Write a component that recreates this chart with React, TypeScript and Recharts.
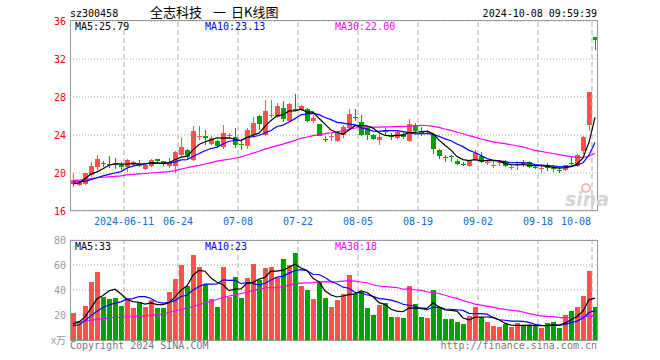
import { ComposedChart, Bar, Line, XAxis, YAxis, CartesianGrid, ReferenceLine } from 'recharts'

const RED = '#ff5050'
const GREEN = '#00a000'
const MONO = '"DejaVu Sans Mono", monospace'
const CJK = '"Noto Sans CJK SC", sans-serif'

// trading days, 2024-05-28 .. 2024-10-08
const days = [
  '05-28', '05-29', '05-30', '05-31', '06-03', '06-04', '06-05', '06-06', '06-07', '06-11',
  '06-12', '06-13', '06-14', '06-17', '06-18', '06-19', '06-20', '06-21', '06-24', '06-25',
  '06-26', '06-27', '06-28', '07-01', '07-02', '07-03', '07-04', '07-05', '07-08', '07-09',
  '07-10', '07-11', '07-12', '07-15', '07-16', '07-17', '07-18', '07-19', '07-22', '07-23',
  '07-24', '07-25', '07-26', '07-29', '07-30', '07-31', '08-01', '08-02', '08-05', '08-06',
  '08-07', '08-08', '08-09', '08-12', '08-13', '08-14', '08-15', '08-16', '08-19', '08-20',
  '08-21', '08-22', '08-23', '08-26', '08-27', '08-28', '08-29', '08-30', '09-02', '09-03',
  '09-04', '09-05', '09-06', '09-09', '09-10', '09-11', '09-12', '09-13', '09-18', '09-19',
  '09-20', '09-23', '09-24', '09-25', '09-26', '09-27', '09-30', '10-08',
]

const open = [
  18.84, 18.7, 18.85, 19.82, 20.65, 21.05, 21.0, 21.0, 21.0, 20.6,
  20.9, 21.0, 20.45, 20.77, 21.5, 21.3, 20.75, 20.72, 21.9, 22.45,
  21.4, 23.9, 23.85, 23.1, 23.4, 22.7, 24.0, 23.8, 23.1, 22.8,
  24.05, 26.04, 24.04, 26.1, 25.9, 26.84, 25.44, 26.7, 26.67, 26.77,
  25.5, 25.16, 23.6, 23.8, 23.4, 24.04, 24.74, 25.85, 25.37, 24.74,
  23.96, 23.44, 24.42, 23.86, 23.65, 24.11, 23.4, 25.02, 24.3, 24.28,
  24.04, 22.46, 21.7, 21.8, 21.3, 20.98, 20.7, 21.4, 21.82, 21.05,
  20.85, 21.08, 21.12, 20.6, 20.95, 21.08, 21.12, 20.65, 20.5, 20.65,
  20.55, 20.3, 20.35, 21.08, 20.7, 22.28, 25.09, 34.27,
]
const close = [
  19.26, 19.05, 20.0, 20.77, 21.5, 20.9, 20.9, 20.85, 20.6, 21.4,
  21.2, 20.74, 20.8, 21.37, 21.25, 20.95, 21.15, 22.25, 22.75, 21.67,
  24.38, 23.93, 23.72, 23.7, 22.8, 24.2, 24.05, 23.0, 23.0, 24.56,
  25.26, 25.16, 26.56, 26.14, 27.02, 25.68, 27.26, 26.6, 27.02, 25.44,
  25.8, 23.93, 23.55, 23.86, 24.21, 24.81, 26.25, 25.79, 23.96, 24.04,
  23.61, 23.79, 24.36, 23.75, 24.28, 23.75, 25.16, 24.39, 24.25, 24.39,
  22.53, 21.75, 21.65, 21.75, 20.95, 20.95, 21.23, 22.11, 21.12, 21.12,
  20.88, 21.12, 20.7, 20.63, 20.98, 21.05, 20.63, 20.63, 20.53, 20.63,
  20.53, 20.28, 20.88, 21.05, 21.93, 23.75, 28.56, 34.0,
]
const high = [
  20.0, 19.2, 20.05, 21.2, 21.9, 21.3, 21.75, 21.6, 21.2, 21.5,
  21.3, 21.4, 20.9, 21.5, 21.5, 21.3, 21.55, 22.3, 23.7, 22.55,
  24.9, 24.9, 24.5, 23.85, 23.5, 25.1, 24.2, 24.7, 23.5, 24.74,
  25.86, 26.14, 27.72, 27.72, 27.37, 27.54, 27.37, 28.35, 27.19, 26.8,
  26.1, 25.16, 23.9, 24.2, 24.39, 25.09, 26.77, 26.77, 26.14, 24.81,
  24.11, 24.21, 24.81, 24.21, 24.39, 24.28, 25.68, 25.3, 24.81, 24.5,
  24.11, 22.53, 21.93, 21.93, 21.51, 21.16, 21.4, 22.46, 22.18, 21.33,
  21.23, 21.4, 21.4, 20.98, 21.23, 21.33, 21.3, 20.88, 20.88, 21.05,
  20.88, 20.63, 20.88, 21.65, 22.0, 23.93, 28.56, 34.27,
]
const low = [
  18.56, 18.6, 18.7, 19.6, 20.35, 20.6, 20.5, 20.4, 20.3, 20.1,
  20.7, 20.6, 20.3, 20.6, 21.0, 20.7, 20.55, 20.0, 21.7, 21.5,
  21.25, 23.5, 23.0, 22.9, 22.6, 22.5, 23.7, 22.6, 22.45, 22.56,
  23.9, 24.56, 23.86, 25.8, 25.8, 25.4, 25.26, 26.5, 26.49, 25.37,
  25.3, 23.86, 23.3, 23.4, 23.3, 23.68, 24.56, 25.44, 23.86, 23.44,
  23.47, 22.91, 23.96, 23.51, 23.58, 23.61, 23.26, 24.32, 23.86, 24.1,
  22.04, 21.51, 21.12, 21.16, 20.81, 20.7, 20.63, 21.23, 21.05, 20.88,
  20.53, 20.77, 20.63, 20.35, 20.35, 20.63, 20.53, 20.42, 20.0, 20.18,
  20.07, 20.0, 20.18, 20.88, 20.63, 22.04, 24.39, 32.9,
]
// volume, 万手
const volume = [
  21.7, 14.2, 27.6, 46.6, 54.6, 34.8, 33.0, 34.0, 27.6, 33.0,
  26.0, 30.5, 26.8, 32.1, 26.0, 26.0, 38.6, 48.5, 60.3, 43.4,
  68.3, 58.1, 45.0, 33.0, 26.8, 58.1, 34.8, 50.6, 34.0, 49.8,
  61.1, 48.2, 57.9, 58.7, 49.8, 64.6, 60.3, 69.9, 43.4, 40.2,
  33.0, 46.1, 34.0, 26.8, 32.1, 37.0, 51.7, 37.0, 38.3, 26.0,
  20.1, 28.1, 29.7, 18.8, 18.8, 17.7, 43.4, 28.9, 18.8, 17.7,
  40.2, 26.8, 16.9, 16.9, 14.5, 12.9, 19.6, 26.8, 18.2, 14.5,
  11.3, 10.4, 12.9, 10.4, 13.7, 11.3, 11.3, 11.3, 9.6, 13.7,
  14.5, 9.6, 20.1, 23.3, 26.8, 35.4, 55.4, 26.8,
]

const ma5Head = [18.84, 18.95, 19.4, 19.9]
const ma10Head = [19.05, 19.08, 19.12, 19.3, 19.5, 19.7, 19.85, 20.0, 20.15]
const ma30Head = [
  19.2, 19.25, 19.3, 19.4, 19.5, 19.55, 19.6, 19.65, 19.7, 19.8,
  19.85, 19.9, 19.95, 20.0, 20.05, 20.1, 20.15, 20.25, 20.4, 20.55,
  20.7, 20.8, 20.95, 21.1, 21.25, 21.35, 21.45, 21.55, 21.7,
]
const volMa5Head = [12.9, 14.5, 18.5, 25.5]
const volMa10Head = [11.5, 12.0, 15.5, 19.5, 23.0, 26.0, 28.0, 29.5, 30.5]
const volMa30Head = [
  14.2, 14.7, 15.2, 15.8, 16.5, 17.2, 17.8, 18.0, 18.2, 18.4,
  18.6, 18.8, 19.2, 19.8, 20.4, 21.0, 22.0, 23.2, 24.4, 25.6,
  26.8, 28.2, 29.6, 31.0, 32.4, 34.0, 35.2, 36.2, 37.2,
]

const tickDays = ['06-11', '06-24', '07-08', '07-22', '08-05', '08-19', '09-02', '09-18', '10-08']
const tickLabels = ['2024-06-11', '06-24', '07-08', '07-22', '08-05', '08-19', '09-02', '09-18', '10-08']
const priceTicks = [16, 20, 24, 28, 32, 36]
const volTicks = [0, 20, 40, 60, 80]

function movingAvg(src: number[], n: number, head: number[]) {
  return src.map((_, i) => {
    if (i < n - 1) return head[i]
    let s = 0
    for (let k = i - n + 1; k <= i; k++) s += src[k]
    return s / n
  })
}

const ma5 = movingAvg(close, 5, ma5Head)
const ma10 = movingAvg(close, 10, ma10Head)
const ma30 = movingAvg(close, 30, ma30Head)
const vma5 = movingAvg(volume, 5, volMa5Head)
const vma10 = movingAvg(volume, 10, volMa10Head)
const vma30 = movingAvg(volume, 30, volMa30Head)

const rows = days.map((day, i) => ({
  day,
  o: open[i],
  c: close[i],
  h: high[i],
  l: low[i],
  range: [low[i], high[i]],
  vol: volume[i],
  ma5: ma5[i],
  ma10: ma10[i],
  ma30: ma30[i],
  vma5: vma5[i],
  vma10: vma10[i],
  vma30: vma30[i],
}))

const Candle = (props: any) => {
  const { x, y, height, payload } = props
  if (!payload) return null
  const { o, c, h, l } = payload
  const top = Math.min(y, y + height)
  const span = Math.abs(height)
  const k = h > l ? span / (h - l) : 0
  const py = (p: number) => top + (h - p) * k
  const col = c >= o ? RED : GREEN
  const bx = Math.floor(x)
  const wTop = Math.round(top)
  const wBot = Math.round(top + span)
  const bTop = Math.round(py(Math.max(o, c)))
  const bBot = Math.round(py(Math.min(o, c)))
  return (
    <g>
      <rect x={bx + 2} y={wTop} width={1} height={Math.max(1, wBot - wTop)} fill={col} />
      <rect x={bx} y={bTop} width={5} height={Math.max(1, bBot - bTop)} fill={col} />
    </g>
  )
}

const VolBar = (props: any) => {
  const { x, y, height, payload } = props
  if (!payload) return null
  const t = Math.round(y)
  const b = Math.round(y + height)
  return <rect x={Math.floor(x)} y={t} width={5} height={Math.max(0, b - t)} fill={payload.c >= payload.o ? RED : GREEN} />
}

const DateTick = (p: any) => {
  const idx = tickDays.indexOf(p.payload.value)
  const last = idx === tickDays.length - 1
  return (
    <text x={last ? p.x - 4 : p.x - 3} y={225} textAnchor={last ? 'end' : 'middle'} fill="#0a6fd6" fontSize={10} fontFamily={MONO}>
      {tickLabels[idx]}
    </text>
  )
}

const VolTick = (p: any) => {
  const v = p.payload.value
  return (
    <text x={p.x} y={p.y} dy={3.5} textAnchor="end" fill="#999" fontSize={10} fontFamily={v === 0 ? CJK : MONO}>
      {v === 0 ? 'x万' : v}
    </text>
  )
}

const vLines = () =>
  tickDays.map((d) => (
    <ReferenceLine key={d} x={d} position="start" stroke="#aaa" strokeDasharray="5 3" ifOverflow="extendDomain" />
  ))

export default function App() {
  return (
    <div style={{ position: 'absolute', left: 0, top: 0, width: 660, height: 360, background: '#fff', overflow: 'hidden' }}>
      <div style={{ position: 'absolute', left: 0, top: 0 }}>
        <ComposedChart width={660} height={232} data={rows} margin={{ top: 21, right: 62, bottom: 1, left: 0 }}>
          <CartesianGrid vertical={false} stroke="#aaa" strokeDasharray="1 2" />
          <XAxis dataKey="day" ticks={tickDays} interval={0} height={20} tickLine={false} axisLine={false} tick={DateTick} />
          <YAxis
            domain={[16, 36]}
            ticks={priceTicks}
            interval={0}
            allowDataOverflow
            width={70}
            tickLine={false}
            axisLine={false}
            tickSize={2}
            tickMargin={2}
            tick={{ fill: '#ff0000', fontSize: 10, fontFamily: MONO }}
          />
          {vLines()}
          <Bar dataKey="range" barSize={5} shape={Candle} isAnimationActive={false} />
          <Line dataKey="ma30" stroke="#ff00ff" strokeWidth={1.2} dot={false} isAnimationActive={false} />
          <Line dataKey="ma10" stroke="#0000ff" strokeWidth={1.2} dot={false} isAnimationActive={false} />
          <Line dataKey="ma5" stroke="#000" strokeWidth={1.2} dot={false} isAnimationActive={false} />
        </ComposedChart>
      </div>
      <div style={{ position: 'absolute', left: 0, top: 230 }}>
        <ComposedChart width={660} height={121} data={rows} margin={{ top: 10, right: 62, bottom: 11, left: 0 }}>
          <CartesianGrid vertical={false} stroke="#aaa" strokeDasharray="1 2" />
          <XAxis dataKey="day" hide />
          <YAxis
            domain={[0, 80]}
            ticks={volTicks}
            interval={0}
            width={70}
            tickLine={false}
            axisLine={false}
            tickSize={2}
            tickMargin={2}
            tick={VolTick}
          />
          {vLines()}
          <Bar dataKey="vol" barSize={5} shape={VolBar} isAnimationActive={false} />
          <Line dataKey="vma30" stroke="#ff00ff" strokeWidth={1.2} dot={false} isAnimationActive={false} />
          <Line dataKey="vma10" stroke="#0000ff" strokeWidth={1.2} dot={false} isAnimationActive={false} />
          <Line dataKey="vma5" stroke="#000" strokeWidth={1.2} dot={false} isAnimationActive={false} />
        </ComposedChart>
      </div>
      <svg width={660} height={360} style={{ position: 'absolute', left: 0, top: 0, pointerEvents: 'none' }}>
        <rect x={70.5} y={20.5} width={527} height={190} fill="none" stroke="#999" />
        <rect x={70.5} y={240.5} width={527} height={100} fill="none" stroke="#999" />
        <text x={70} y={17} fontSize={10} fontFamily={MONO} fill="#000">sz300458</text>
        <text y={17} fontSize={13} fontFamily={CJK} fill="#000">
          <tspan x={150}>全志科技</tspan>
          <tspan x={213}>一</tspan>
          <tspan x={231}>日K线图</tspan>
        </text>
        <text x={597} y={17} textAnchor="end" fontSize={10} fontFamily={MONO} fill="#000">2024-10-08 09:59:39</text>
        <text x={75} y={30} fontSize={10} fontFamily={MONO} fill="#000">MA5:25.79</text>
        <text x={205} y={30} fontSize={10} fontFamily={MONO} fill="#0000ff">MA10:23.13</text>
        <text x={335} y={30} fontSize={10} fontFamily={MONO} fill="#ff00ff">MA30:22.00</text>
        <text x={75} y={250} fontSize={10} fontFamily={MONO} fill="#000">MA5:33</text>
        <text x={205} y={250} fontSize={10} fontFamily={MONO} fill="#0000ff">MA10:23</text>
        <text x={335} y={250} fontSize={10} fontFamily={MONO} fill="#ff00ff">MA30:18</text>
        <text x={70} y={349} fontSize={10} fontFamily={MONO} fill="#777">Copyright 2024 SINA.COM</text>
        <text x={597} y={349} textAnchor="end" fontSize={10} fontFamily={MONO} fill="#777">http://finance.sina.com.cn</text>
        <circle cx={586} cy={188} r={4} fill="none" stroke="#f2b8b8" strokeWidth={2} />
        <text x={565} y={206} fontSize={19} fontStyle="italic" fontWeight="bold" fontFamily='"DejaVu Sans", sans-serif' fill="#d4d4d4">sina</text>
      </svg>
    </div>
  )
}
